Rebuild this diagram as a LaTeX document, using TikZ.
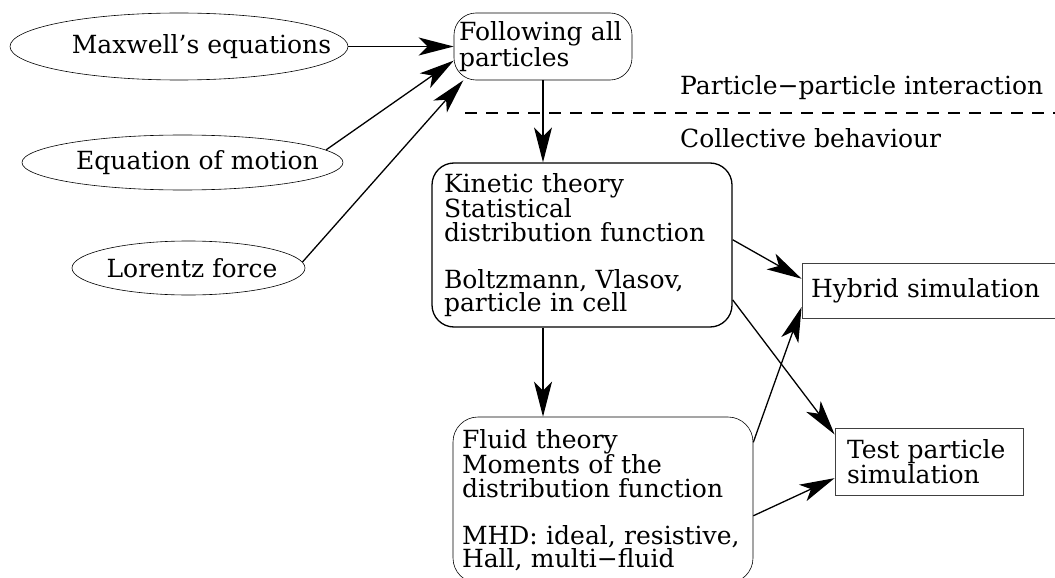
\documentclass[tikz,border=0pt]{standalone}
\usepackage{fontspec}
\setmainfont{DejaVu Serif}
\usetikzlibrary{shapes.geometric,arrows.meta}
\newcommand{\ovaltext}[2]{\makebox[0pt]{\hspace{#1}#2}}

\begin{document}
\begin{tikzpicture}[x=1pt,y=-1pt,
  every node/.style={font=\fontsize{25}{23.5}\selectfont},
  oval/.style={draw,ellipse,line width=0.6pt,inner sep=0pt},
  roundbox/.style={draw,rounded corners=22pt,align=left,inner sep=0pt,text width=#1},
  simbox/.style={draw=black!75,line width=0.8pt,inner sep=0pt,align=left,text width=#1},
  arr/.style={-{Stealth[length=35pt,width=18pt,inset=9pt]},line width=1.3pt}]
\clip (0,0) rectangle (1055,578);
\node[oval,minimum width=338,minimum height=67] (maxwell) at (179,46.5) {\ovaltext{45pt}{Maxwell's equations}};
\node[oval,minimum width=321,minimum height=55] (motion) at (182.5,162.5) {\ovaltext{30pt}{Equation of motion}};
\node[oval,minimum width=233,minimum height=54] (lorentz) at (188.5,268) {\ovaltext{7pt}{Lorentz force}};
\node[roundbox=168,line width=0.6pt,minimum width=178,minimum height=67] (following) at (543,46.5) {Following~all\\particles};
\node[roundbox=276,line width=1.3pt,minimum width=300,minimum height=164] (kinetic) at (582,245) {Kinetic theory\\Statistical\\distribution function\\[23.5pt]Boltzmann, Vlasov,\\particle in cell};
\node[roundbox=282,line width=0.6pt,rounded corners=25pt,minimum width=300,minimum height=166] (fluid) at (603,500) {Fluid theory\\Moments of the\\distribution function\\[23.5pt]MHD: ideal, resistive,\\Hall, multi−fluid};
\node[simbox=250,minimum width=268,minimum height=55] (hybrid) at (936,290.5) {Hybrid simulation};
\node[simbox=164,minimum width=188,minimum height=67] (test) at (929,461.5) {Test particle\\simulation};
\node[anchor=west,inner sep=0pt] (pp) at (680,88) {Particle−particle interaction};
\node[anchor=west,inner sep=0pt] (coll) at (680,138) {Collective behaviour};
\coordinate (dl) at (465,113);
\coordinate (dr) at (1055,113);
\draw[line width=1.1pt,dash pattern=on 12pt off 9pt] (dl) -- (dr);
\draw[arr] (maxwell) -- (following);
\draw[arr] (motion.5) -- (following.189);
\draw[arr] (lorentz.3) -- (following.203);
\draw[arr] (following.south) -- (following.south |- kinetic.north);
\draw[arr] (following.south |- kinetic.south) -- (following.south |- fluid.north);
\draw[arr] (kinetic.2) -- (hybrid.175);
\draw[arr] (kinetic.-20) -- (test.164);
\draw[arr] (fluid.21) -- (hybrid.187);
\draw[arr] (fluid.-6.5) -- (test.190);
\end{tikzpicture}
\end{document}
